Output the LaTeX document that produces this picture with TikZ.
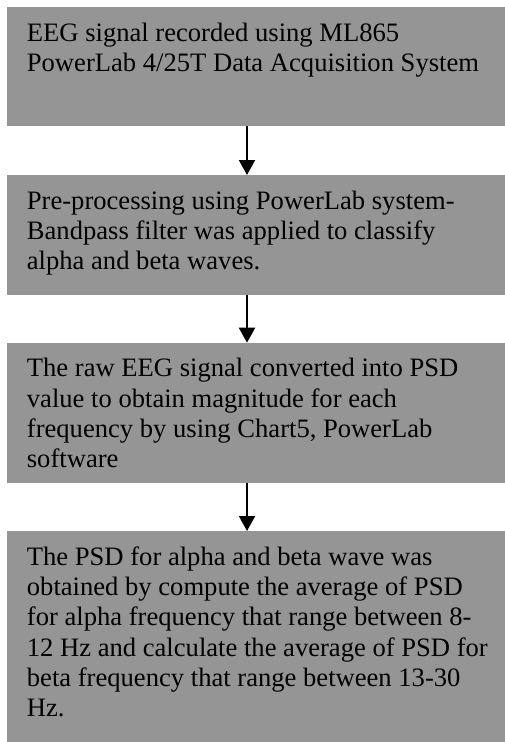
\documentclass[tikz,border=0pt]{standalone}
\usepackage{fontspec}
\setmainfont{Liberation Serif}
\usetikzlibrary{arrows.meta}
\definecolor{boxgray}{RGB}{149,149,149}
\newcommand{\boxtext}[2]{\parbox[t][#1][t]{475pt}{\fontsize{26.6pt}{30.3pt}\selectfont\raggedright\rule{0pt}{34pt}#2}}
\begin{document}
\begin{tikzpicture}[
  stepbox/.style={fill=boxgray, draw=none, anchor=north west, inner xsep=19.7pt, inner ysep=0pt, minimum width=498pt, text=black, align=left},
  arr/.style={line width=2pt, -{Triangle[width=16pt,length=15pt]}}
]
\useasboundingbox (0,0) rectangle (505pt,-742pt);
\node[stepbox] (b1) at (7pt,-7pt) {\boxtext{119pt}{EEG signal recorded using ML865\\PowerLab 4/25T Data Acquisition System}};
\node[stepbox] (b2) at (7pt,-175pt) {\boxtext{119.3pt}{Pre-processing using PowerLab system-\\Bandpass filter was applied to classify\\alpha and beta waves.}};
\node[stepbox] (b3) at (7pt,-342.7pt) {\boxtext{139.8pt}{The raw EEG signal converted into PSD\\value to obtain magnitude for each\\frequency by using Chart5, PowerLab\\software}};
\node[stepbox] (b4) at (7pt,-531pt) {\boxtext{210.5pt}{The PSD for alpha and beta wave was\\obtained by compute the average of PSD\\for alpha frequency that range between 8-\\12 Hz and calculate the average of PSD for\\beta frequency that range between 13-30\\Hz.}};
\draw[arr] ([xshift=240pt]b1.south west) -- ([xshift=240pt]b2.north west);
\draw[arr] ([xshift=240pt]b2.south west) -- ([xshift=240pt]b3.north west);
\draw[arr] ([xshift=240pt]b3.south west) -- ([xshift=240pt]b4.north west);
\end{tikzpicture}
\end{document}
